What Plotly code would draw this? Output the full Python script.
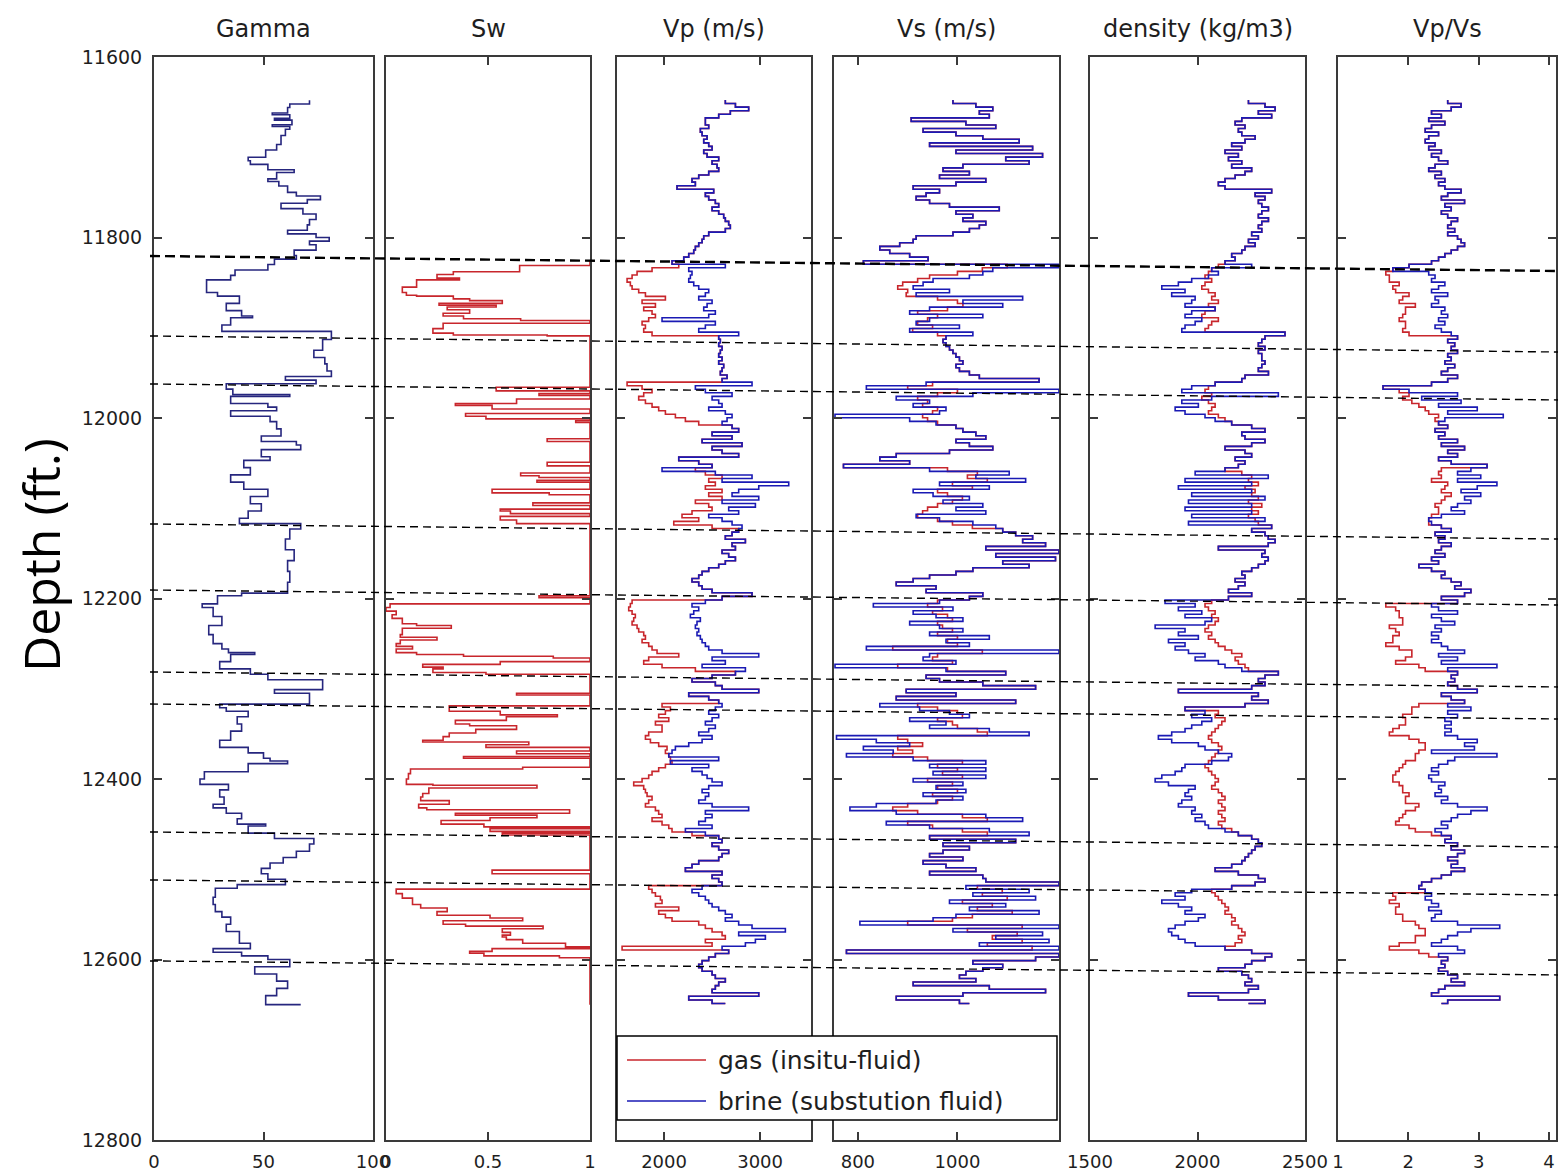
import plotly.graph_objects as go

# ---------------------------------------------------------------------------
# Well-log data (depth in ft)
# ---------------------------------------------------------------------------

# Gamma ray log, stepped samples
gamma_depth = [
    11648, 11652, 11656, 11662, 11664, 11668, 11670, 11675, 11677, 11680,
    11687, 11697, 11703, 11711, 11715, 11719, 11725, 11728, 11735, 11738,
    11743, 11750, 11754, 11758, 11762, 11768, 11774, 11780, 11786, 11792,
    11796, 11800, 11804, 11808, 11814, 11820, 11824, 11830, 11836, 11842,
    11847, 11861, 11865, 11873, 11881, 11887, 11889, 11897, 11904, 11913,
    11925, 11933, 11940, 11948, 11954, 11958, 11962, 11968, 11974, 11976,
    11984, 11988, 11992, 11998, 12004, 12012, 12020, 12026, 12030, 12035,
    12043, 12047, 12055, 12063, 12071, 12079, 12087, 12095, 12103, 12111,
    12117, 12123, 12134, 12146, 12158, 12170, 12182, 12194, 12197, 12206,
    12210, 12220, 12230, 12240, 12250, 12256, 12260, 12262, 12270, 12278,
    12284, 12290, 12301, 12305, 12317, 12321, 12325, 12331, 12339, 12347,
    12357, 12365, 12371, 12377, 12380, 12383, 12392, 12400, 12406, 12412,
    12420, 12428, 12432, 12438, 12444, 12450, 12452, 12460, 12466, 12472,
    12480, 12487, 12493, 12499, 12505, 12511, 12517, 12521, 12531, 12539,
    12547, 12553, 12561, 12569, 12582, 12588, 12592, 12596, 12600, 12608,
    12616, 12624, 12632, 12640, 12650,
]
gamma = [
    71, 62, 61, 54, 62, 55, 63, 54, 62, 60,
    58, 56, 51, 43, 44, 52, 64, 56, 52, 57,
    61, 65, 76, 70, 58, 68, 74, 71, 70, 61,
    74, 80, 71, 74, 64, 65, 55, 52, 37, 35,
    24, 29, 39, 33, 40, 45, 35, 31, 81, 77,
    73, 78, 79, 81, 60, 74, 33, 36, 62, 35,
    52, 56, 35, 53, 56, 58, 49, 65, 67, 49,
    53, 41, 44, 35, 41, 52, 44, 49, 43, 39,
    67, 62, 60, 64, 61, 62, 61, 40, 29, 22,
    27, 31, 25, 27, 31, 34, 46, 35, 30, 44,
    52, 77, 55, 71, 30, 33, 43, 38, 40, 35,
    30, 43, 50, 53, 61, 43, 23, 21, 34, 30,
    32, 27, 33, 40, 38, 51, 43, 55, 73, 71,
    65, 59, 53, 49, 52, 60, 38, 28, 27, 28,
    31, 35, 33, 39, 44, 27, 40, 52, 62, 46,
    56, 61, 56, 51, 67,
]

# Water saturation (in-situ), stepped samples
sw_depth = [
    11825, 11831, 11838, 11841, 11845, 11847, 11855, 11861, 11864, 11865,
    11868, 11870, 11873, 11875, 11877, 11880, 11884, 11887, 11890, 11892,
    11895, 11901, 11906, 11908, 11909, 11966, 11970, 11973, 11975, 11979,
    11984, 11986, 11990, 11995, 11998, 12001, 12003, 12005, 12023, 12026,
    12049, 12053, 12061, 12064, 12066, 12069, 12071, 12079, 12083, 12085,
    12094, 12097, 12101, 12103, 12106, 12109, 12113, 12117, 12197, 12199,
    12206, 12210, 12214, 12218, 12222, 12228, 12230, 12233, 12240, 12243,
    12246, 12250, 12253, 12256, 12260, 12262, 12264, 12266, 12270, 12273,
    12276, 12278, 12282, 12284, 12305, 12307, 12319, 12325, 12329, 12331,
    12335, 12339, 12341, 12345, 12349, 12353, 12357, 12359, 12362, 12365,
    12369, 12372, 12375, 12377, 12387, 12389, 12394, 12400, 12406, 12407,
    12410, 12416, 12420, 12424, 12428, 12432, 12434, 12438, 12440, 12443,
    12446, 12450, 12453, 12455, 12458, 12460, 12462, 12501, 12505, 12522,
    12527, 12532, 12537, 12539, 12543, 12547, 12551, 12554, 12557, 12561,
    12563, 12566, 12570, 12573, 12575, 12578, 12582, 12586, 12588, 12591,
    12593, 12596, 12598, 12650,
]
sw = [
    1.0, 0.655, 0.33, 0.25, 0.36, 0.15, 0.08, 0.10, 0.15, 0.33,
    0.41, 0.57, 0.26, 0.54, 0.30, 0.41, 0.28, 0.38, 0.66, 1.0,
    0.28, 0.23, 0.33, 0.79, 1.0, 0.54, 1.0, 0.75, 1.0, 0.64,
    0.34, 0.52, 1.0, 0.39, 0.49, 1.0, 0.93, 1.0, 0.79, 1.0,
    0.79, 1.0, 0.66, 0.75, 1.0, 0.74, 1.0, 0.52, 0.80, 1.0,
    0.72, 1.0, 0.56, 0.61, 1.0, 0.56, 0.64, 1.0, 0.75, 1.0,
    0.02, 0.0, 0.05, 0.03, 0.08, 0.15, 0.32, 0.08, 0.07, 0.25,
    0.07, 0.05, 0.13, 0.05, 0.15, 0.38, 0.82, 1.0, 0.56, 0.18,
    0.28, 0.23, 0.49, 1.0, 0.64, 1.0, 0.31, 0.56, 0.84, 0.59,
    0.34, 0.41, 0.64, 0.44, 0.31, 0.28, 0.18, 0.70, 0.49, 1.0,
    0.64, 1.0, 0.38, 1.0, 0.67, 0.12, 0.11, 0.10, 0.23, 0.74,
    0.21, 0.18, 0.17, 0.31, 0.16, 0.20, 0.90, 0.34, 0.74, 0.51,
    0.27, 0.48, 1.0, 0.51, 1.0, 0.57, 1.0, 0.52, 1.0, 0.05,
    0.08, 0.13, 0.13, 0.17, 0.30, 0.25, 0.51, 0.67, 0.28, 0.39,
    0.77, 0.57, 0.61, 0.57, 0.59, 0.67, 0.88, 1.0, 0.52, 0.41,
    0.48, 0.85, 1.0, 1.0,
]

# Elastic logs share one regular sampling (254 samples, ~3.96 ft step)
LOG_TOP, LOG_STEP, LOG_N = 11647.6, 3.957, 254
log_depth = [round(LOG_TOP + LOG_STEP * i, 1) for i in range(LOG_N)]

# P-wave velocity, brine-substituted (m/s)
vp_brine = [
    2638, 2743, 2881, 2690, 2569, 2430, 2430, 2465, 2378, 2396,
    2448, 2413, 2465, 2500, 2413, 2448, 2569, 2500, 2552, 2569,
    2465, 2361, 2291, 2326, 2135, 2517, 2430, 2465, 2534, 2569,
    2500, 2569, 2621, 2638, 2673, 2690, 2638, 2465, 2413, 2396,
    2361, 2326, 2309, 2257, 2205, 2083, 2638, 2257, 2291, 2274,
    2257, 2309, 2361, 2465, 2430, 2361, 2500, 2448, 2413, 2534,
    2465, 1979, 2534, 2430, 2361, 2777, 2569, 2586, 2569, 2604,
    2586, 2569, 2604, 2569, 2621, 2604, 2586, 2656, 2604, 2916,
    2326, 2430, 2708, 2500, 2569, 2604, 2465, 2638, 2708, 2656,
    2604, 2708, 2777, 2500, 2708, 2396, 2812, 2500, 2604, 2777,
    2153, 2361, 2500, 1979, 2534, 2916, 2604, 3298, 2986, 2777,
    2708, 2986, 2604, 2951, 2673, 2777, 2465, 2604, 2708, 2812,
    2777, 2708, 2638, 2847, 2708, 2743, 2604, 2673, 2743, 2638,
    2569, 2465, 2396, 2361, 2291, 2361, 2396, 2500,
    2916, 2604, 2430, 2291, 2361, 2309, 2274, 2378, 2343, 2326,
    2361, 2343, 2378, 2396, 2430, 2465, 2604, 2986, 2500, 2638,
    2396, 2847, 2743, 2500, 2291, 2534, 2604, 2986, 2257, 2465,
    2569, 2604, 2534, 2465, 2569, 2500, 2430, 2534, 2465, 2361,
    2500, 2396, 2257, 2118, 2083, 2049, 2569, 2066, 2465, 2291,
    2396, 2448, 2500, 2604, 2465, 2396, 2465, 2430, 2361, 2500,
    2881, 2430, 2500, 2430, 2361, 2500, 2222, 2430, 2569, 2604,
    2500, 2569, 2673, 2604, 2569, 2361, 2291, 2222, 2604, 2500,
    2569, 2604, 2396, 2291, 2361, 2430, 2465, 2500, 2569, 2638,
    2708, 2638, 2777, 2916, 3263, 2777, 3055, 2951, 2847, 2604,
    2673, 2534, 2465, 2396, 2361, 2396, 2500, 2534, 2638, 2569,
    2534, 2500, 2986, 2257, 2500, 2638,
]
# In-situ (gas) P-wave velocity inside the gas zones: (first sample, values)
vp_gas_zones = [
    (46, [2153, 1875, 1719, 1667, 1615, 1649, 1667, 1736, 1806, 2014,
          1771, 1910, 1788, 1875, 1910, 1840, 1771, 1806, 1788, 1875]),
    (79, [1615, 1771, 1875, 1788, 1736, 1806, 1875, 1944, 2014, 2118,
          2222, 2361]),
    (103, [2326, 2430, 2604, 2465, 2534, 2430, 2604, 2465, 2604, 2326,
           2465, 2500, 2291, 2187, 2361, 2101, 2500]),
    (140, [1667, 1649, 1632, 1667, 1701, 1684, 1667, 1719, 1736, 1788,
           1806, 1771, 1840, 1875, 1927, 2153, 1840, 1788, 1979, 2326]),
    (169, [1979, 2066, 2014, 1944, 2049, 1910, 1979, 1979, 1840, 1806,
           1858, 1944, 2031, 2014, 2049, 2066, 2083, 2014, 1944, 1875,
           1840, 1771, 1684, 1788, 1806, 1823, 1875, 1840, 1806, 1910,
           1944, 1979, 1875, 1979, 2049, 2083, 2291]),
    (220, [1840, 1875, 1910, 1962, 1979, 1910, 2153, 1944, 2014, 2083,
           2361, 2430, 2500, 2604, 2638, 2430, 2500, 1563]),
]

# S-wave velocity, brine-substituted (m/s)
vs_brine = [
    991, 1037, 1071, 1044, 1064, 907, 1017, 1077, 931, 997,
    1051, 1124, 944, 1151, 997, 1171, 1097, 1144, 1011, 971,
    1024, 964, 1057, 997, 911, 964, 937, 917, 944, 984,
    1084, 997, 1031, 1011, 1057, 1044, 1024, 991, 917, 911,
    884, 844, 864, 904, 941, 811, 1204, 1071, 1051, 1024,
    951, 931, 911, 984, 917, 1131, 1011, 1091, 944, 904,
    1051, 944, 917, 1004, 904, 1031, 977, 971, 977, 984,
    991, 997, 1004, 1011, 997, 1004, 1024, 1044, 1164, 937,
    817, 1204, 1031, 877, 944, 911, 977, 964, 754, 904,
    957, 997, 1011, 1037, 1057, 997, 1024, 1071, 984, 877,
    844, 904, 771, 944, 1104, 1037, 1137, 964, 1064, 911,
    951, 1024, 971, 1051, 997, 1057, 917, 964, 1031, 1077,
    1091, 1117, 1151, 1131, 1177, 1057, 1204, 1077, 1197, 1091,
    1144, 1031, 997, 944, 911, 877, 957, 937,
    1051, 1024, 964, 831, 991, 911, 957, 1011, 904, 964,
    1011, 944, 1064, 977, 1024, 817, 1204, 944, 931, 997,
    754, 977, 1097, 937, 964, 1051, 1157, 897, 997, 877,
    1117, 844, 924, 984, 1024, 904, 977, 944, 1064, 1144,
    757, 837, 904, 811, 871, 777, 911, 1057, 944, 1057,
    951, 1057, 911, 1011, 957, 1017, 931, 1011, 957, 837,
    784, 877, 1057, 1131, 857, 944, 1064, 1144, 944, 1117,
    971, 1024, 971, 944, 1011, 931, 977, 1037, 944, 1051,
    1057, 1204, 1017, 1144, 1031, 1157, 984, 1097, 1024, 1164,
    997, 951, 804, 1204, 991, 1171, 1077, 1184, 1044, 1204,
    777, 1204, 1157, 1031, 1091, 1051, 1017, 1004, 1037, 911,
    1064, 1177, 1011, 877, 1004, 1024,
]
vs_gas_zones = [
    (46, [1100, 1050, 1000, 944, 920, 890, 880, 900, 897, 960,
          1000, 1011, 980, 920, 960, 940, 920, 950, 910, 960]),
    (79, [950, 900, 1000, 960, 920, 940, 930, 960, 950, 930, 940, 960]),
    (103, [980, 1040, 1020, 1060, 990, 1030, 960, 980, 1010, 990,
           960, 940, 930, 920, 960, 990, 1030]),
    (140, [960, 940, 970, 950, 980, 990, 960, 970, 990, 960,
           1000, 980, 1000, 870, 1050, 960, 950, 990, 880, 980]),
    (169, [920, 960, 1000, 1010, 960, 990, 1000, 1040, 1060, 880,
           900, 930, 880, 910, 870, 940, 1010, 960, 1000, 970,
           1010, 940, 990, 960, 1000, 950, 990, 960, 900, 870,
           920, 1010, 1060, 900, 950, 1010, 1060]),
    (220, [1040, 1090, 1050, 1100, 1010, 1070, 1040, 1110, 1030, 990,
           900, 1130, 1020, 1120, 1070, 1130, 1060, 1150]),
]

# Bulk density, brine-substituted (kg/m3)
rho_brine = [
    2237, 2314, 2361, 2283, 2345, 2206, 2175, 2221, 2190, 2206,
    2268, 2221, 2159, 2206, 2128, 2190, 2144, 2206, 2159, 2252,
    2221, 2175, 2128, 2097, 2128, 2345, 2268, 2314, 2283, 2299,
    2330, 2299, 2283, 2330, 2299, 2283, 2299, 2252, 2283, 2237,
    2268, 2221, 2206, 2159, 2175, 2128, 2252, 2066, 2097, 2051,
    1973, 1911, 1834, 1942, 1880, 1989, 1973, 1942, 2082, 1973,
    1942, 2020, 1989, 1942, 1927, 2407, 2314, 2299, 2283, 2314,
    2283, 2299, 2299, 2314, 2299, 2283, 2330, 2221, 2206, 2082,
    1973, 1927, 2376, 2066, 1927, 2004, 1896, 1942, 2035, 2082,
    2159, 2252, 2314, 2206, 2221, 2314, 2252, 2128, 2221, 2252,
    2175, 2221, 2190, 2128, 1989, 2329, 1942, 2252, 1911, 2252,
    1973, 2314, 1958, 2252, 1942, 2252, 1973, 2314, 1958, 2345,
    2252, 2314, 2329, 2361, 2329, 2097, 2314, 2299, 2329, 2314,
    2283, 2252, 2206, 2221, 2175, 2221, 2190, 2144,
    2252, 2144, 1849, 1989, 1911, 2020, 1942, 2066, 2035, 1803,
    1942, 1911, 2004, 1865, 1942, 1896, 1958, 2035, 1989, 2097,
    2128, 2206, 2376, 2314, 2283, 2314, 2252, 1911, 2283, 2252,
    2329, 2221, 1942, 2035, 1973, 2066, 2020, 1973, 1942, 1880,
    1818, 1880, 2004, 2035, 2097, 2159, 2144, 2066, 1942, 1927,
    1896, 1834, 1803, 1865, 1989, 1958, 1942, 1973, 1927, 1911,
    1989, 1973, 2020, 1989, 2035, 2051, 2128, 2190, 2252, 2283,
    2299, 2268, 2252, 2237, 2221, 2206, 2159, 2082, 2190, 2283,
    2314, 2268, 2159, 1973, 1896, 1942, 1834, 1911, 1973, 1942,
    2035, 2004, 1942, 1896, 1865, 1880, 1911, 1942, 1989, 2128,
    2252, 2345, 2314, 2252, 2221, 2097, 2206, 2237, 2252, 2221,
    2283, 2237, 1958, 2097, 2314, 2237,
]
rho_gas_zones = [
    (46, [2097, 2066, 2051, 2035, 2066, 2035, 2020, 2051, 2082, 2066,
          2097, 2051, 2082, 2035, 2020, 2097, 2066, 2051, 2035]),
    (79, [2082, 2051, 2035, 2066, 2020, 2051, 2082, 2066, 2051, 2097, 2128]),
    (104, [2206, 2252, 2237, 2283, 2221, 2268, 2252, 2283, 2237, 2299,
           2252, 2283, 2237, 2268, 2283]),
    (140, [2066, 2035, 2051, 2082, 2066, 2097, 2082, 2051, 2035, 2066,
           2051, 2082, 2097, 2128, 2159, 2206, 2175, 2190, 2221, 2237]),
    (171, [2097, 2082, 2128, 2113, 2097, 2082, 2066, 2051, 2066, 2097,
           2113, 2097, 2082, 2066, 2051, 2035, 2051, 2066, 2082, 2097,
           2082, 2066, 2097, 2113, 2128, 2097, 2113, 2128, 2097, 2113,
           2128, 2097, 2113, 2159, 2190]),
    (221, [2066, 2082, 2097, 2113, 2128, 2144, 2128, 2159, 2175, 2159,
           2190, 2206, 2221, 2190, 2206, 2175, 2128]),
]

# Vp/Vs ratio, brine-substituted
vpvs_brine = [
    2.56, 2.75, 2.61, 2.33, 2.47, 2.29, 2.52, 2.33, 2.24, 2.43,
    2.29, 2.24, 2.38, 2.29, 2.47, 2.33, 2.43, 2.56, 2.38, 2.29,
    2.47, 2.38, 2.52, 2.43, 2.52, 2.75, 2.56, 2.47, 2.80, 2.52,
    2.61, 2.47, 2.56, 2.70, 2.61, 2.56, 2.66, 2.56, 2.70, 2.75,
    2.80, 2.70, 2.61, 2.52, 2.43, 2.33, 2.01, 1.78, 2.29, 2.38,
    2.33, 2.52, 2.43, 2.33, 2.56, 2.38, 2.43, 2.33, 2.52, 2.47,
    2.56, 2.43, 2.52, 2.38, 2.47, 2.61, 2.70, 2.56, 2.66, 2.61,
    2.70, 2.56, 2.61, 2.52, 2.66, 2.56, 2.47, 2.70, 2.56, 2.33,
    1.64, 2.01, 2.70, 2.19, 2.75, 2.43, 2.98, 2.56, 3.35, 2.52,
    2.43, 2.56, 2.38, 2.52, 2.43, 2.70, 2.47, 2.80, 2.56, 2.70,
    2.43, 2.61, 3.12, 2.89, 2.70, 3.03, 2.70, 3.26, 2.98, 2.75,
    3.03, 2.80, 2.89, 2.70, 2.61, 2.80, 2.47, 2.29, 2.33, 2.47,
    2.61, 2.38, 2.52, 2.43, 2.61, 2.47, 2.38, 2.52, 2.33, 2.43,
    2.15, 2.33, 2.52, 2.47, 2.61, 2.75, 2.66, 2.89,
    2.80, 2.47, 2.70, 2.33, 2.43, 2.70, 2.33, 2.47, 2.66, 2.38,
    2.47, 2.33, 2.43, 2.33, 2.47, 2.56, 2.80, 2.43, 2.70, 2.47,
    3.26, 2.56, 2.70, 2.61, 2.66, 2.56, 2.70, 2.98, 2.47, 2.61,
    2.80, 2.56, 2.89, 2.56, 2.70, 2.52, 2.61, 2.52, 2.61, 2.52,
    2.70, 2.98, 2.80, 2.94, 2.33, 3.26, 2.66, 2.56, 2.43, 2.33,
    2.43, 2.29, 2.33, 2.52, 2.43, 2.47, 2.38, 2.56, 2.47, 2.70,
    3.12, 2.89, 2.70, 2.61, 2.47, 2.56, 2.38, 2.47, 2.61, 2.52,
    2.70, 2.61, 2.80, 2.70, 2.56, 2.70, 2.61, 2.80, 2.61, 2.47,
    2.33, 2.19, 2.15, 2.24, 2.33, 2.24, 2.33, 2.43, 2.29, 2.47,
    2.38, 2.33, 2.70, 3.30, 2.89, 2.70, 2.56, 2.47, 2.33, 2.70,
    2.80, 2.43, 2.56, 2.47, 2.52, 2.43, 2.56, 2.70, 2.61, 2.80,
    2.52, 2.43, 2.33, 3.30, 2.56, 2.47,
]
vpvs_gas_zones = [
    (47, [1.78, 1.68, 1.73, 1.73, 1.87, 1.78, 1.82, 2.01, 1.92, 1.87,
          2.10, 1.96, 1.96, 1.92, 1.87, 1.96, 1.96, 1.92, 2.01]),
    (80, [1.64, 1.87, 2.01, 1.92, 2.05, 2.15, 2.24, 2.29, 2.43, 2.38]),
    (103, [2.47, 2.43, 2.47, 2.33, 2.56, 2.52, 2.47, 2.61, 2.52, 2.47,
           2.38, 2.43, 2.43, 2.33, 2.29, 2.29]),
    (141, [1.68, 1.82, 1.87, 1.87, 1.92, 1.92, 1.73, 1.82, 1.87, 1.78,
           1.78, 1.68, 1.87, 2.05, 2.05, 1.96, 1.82, 2.15, 2.24]),
    (169, [2.15, 2.05, 2.05, 1.92, 1.96, 1.96, 1.87, 1.78, 1.73, 2.01,
           2.15, 2.24, 2.24, 2.15, 2.10, 2.10, 1.96, 1.92, 1.87, 1.82,
           1.78, 1.78, 1.87, 1.92, 1.92, 2.01, 1.96, 1.96, 2.15, 2.10,
           1.96, 1.92, 1.87, 1.82, 2.01, 2.10, 2.33]),
    (222, [1.78, 1.82, 1.73, 1.87, 1.82, 1.82, 1.92, 1.92, 2.10, 2.15,
           2.24, 2.24, 2.10, 2.10, 1.87, 1.73, 2.15, 2.29]),
]

# Picked horizons: depth at the left of the Gamma track and at the far right
horizon_left = [11820.5, 11909.1, 11962.3, 12117.4, 12190.6,
                12281.4, 12316.9, 12458.7, 12511.9, 12601.6]
horizon_right = [11837.1, 11926.9, 11980.0, 12134.1, 12207.2,
                 12298.0, 12333.5, 12475.3, 12528.5, 12617.1]

track_titles = ["Gamma", "Sw", "Vp (m/s)", "Vs (m/s)", "density (kg/m3)", "Vp/Vs"]
track_ticks = [[0, 50, 100], [0, 0.5, 1], [2000, 3000], [800, 1000],
               [1500, 2000, 2500], [1, 2, 3, 4]]
track_ticktext = [["0", "50", "100"], ["0", "0.5", "1"], ["2000", "3000"],
                  ["800", "1000"], ["1500", "2000", "2500"], ["1", "2", "3", "4"]]
track_ranges = [[0, 100], [0, 1], [1510, 3530], [752, 1204],
                [1500, 2500], [1, 4.1]]
depth_ticks = [11600, 11800, 12000, 12200, 12400, 12600, 12800]
depth_ticktext = ["11600", "11800", "12000", "12200", "12400", "12600", "12800"]
DEPTH_MIN, DEPTH_MAX = 11600, 12800

legend_labels = ["gas (insitu-fluid)", "brine (substution fluid)"]


def with_gas_zones(base, zones):
    """In-situ log: equals the brine log except inside the gas zones."""
    out = list(base)
    for start, vals in zones:
        out[start:start + len(vals)] = vals
    return out


vp_gas = with_gas_zones(vp_brine, vp_gas_zones)
vs_gas = with_gas_zones(vs_brine, vs_gas_zones)
rho_gas = with_gas_zones(rho_brine, rho_gas_zones)
vpvs_gas = with_gas_zones(vpvs_brine, vpvs_gas_zones)

# ---------------------------------------------------------------------------
# Layout geometry (pixels)
# ---------------------------------------------------------------------------
W, H = 1558, 1172
ML, MR, MT, MB = 154, 2, 57, 32
PW, PH = W - ML - MR, H - MT - MB
track_px = [(154, 373), (386, 590), (617, 811), (834, 1059), (1090, 1305), (1338, 1556)]


def px_x(px):
    return (px - ML) / PW


def px_y(py):
    return (H - MB - py) / PH


def depth_y(d):
    return (DEPTH_MAX - d) / (DEPTH_MAX - DEPTH_MIN)


GAS_C = "#c8262c"
BRINE_C = "#1a1ab4"
GAMMA_C = "#26267e"
AXIS_C = "#3a3a3a"
TEXT_C = "#1e1e1e"
LW = 1.6
SANS = "DejaVu Sans, Liberation Sans, Arial, sans-serif"

fig = go.Figure()


def add_curve(i, x, y, color):
    n = i + 1
    fig.add_trace(go.Scatter(
        x=x, y=y, mode="lines",
        line=dict(color=color, width=LW, shape="vh"),
        xaxis=f"x{n if n > 1 else ''}", yaxis=f"y{n if n > 1 else ''}",
        showlegend=False, hoverinfo="x+y",
    ))


add_curve(0, gamma, gamma_depth, GAMMA_C)
add_curve(1, sw, sw_depth, GAS_C)
for i, (g, b) in enumerate([(vp_gas, vp_brine), (vs_gas, vs_brine),
                            (rho_gas, rho_brine), (vpvs_gas, vpvs_brine)], start=2):
    add_curve(i, g, log_depth, GAS_C)
    add_curve(i, b, log_depth, BRINE_C)

tick_font = dict(family=SANS, size=18, color=TEXT_C)
layout = dict(
    width=W, height=H,
    margin=dict(l=ML, r=MR, t=MT, b=MB, autoexpand=False),
    paper_bgcolor="white", plot_bgcolor="white",
    showlegend=False,
)
for i in range(6):
    n = "" if i == 0 else str(i + 1)
    a, b = track_px[i]
    layout[f"xaxis{n}"] = dict(
        domain=[px_x(a), px_x(b)], anchor=f"y{n}", range=track_ranges[i],
        tickmode="array", tickvals=track_ticks[i], ticktext=track_ticktext[i],
        ticks="inside", ticklen=8, tickwidth=1.5, tickcolor=AXIS_C,
        showline=True, linecolor=AXIS_C, linewidth=2, mirror="ticks",
        showgrid=False, zeroline=False, tickfont=tick_font,
        ticklabelstandoff=4, fixedrange=True, automargin=False,
        ticklabeloverflow="allow",
    )
    layout[f"yaxis{n}"] = dict(
        domain=[0, 1], anchor=f"x{n}", range=[DEPTH_MAX, DEPTH_MIN],
        tickmode="array", tickvals=depth_ticks, ticktext=depth_ticktext,
        ticks="inside", ticklen=8, tickwidth=1.5, tickcolor=AXIS_C,
        showline=True, linecolor=AXIS_C, linewidth=2, mirror="ticks",
        showgrid=False, zeroline=False, tickfont=dict(family=SANS, size=19, color=TEXT_C),
        showticklabels=(i == 0), ticklabelstandoff=6, automargin=False,
    )
    if i > 0:
        layout[f"yaxis{n}"]["matches"] = "y"
fig.update_layout(**layout)

# Track titles
for i, title in enumerate(track_titles):
    a, b = track_px[i]
    fig.add_annotation(
        x=px_x((a + b) / 2), y=px_y(29), xref="paper", yref="paper",
        text=title, showarrow=False, xanchor="center", yanchor="middle",
        font=dict(family=SANS, size=24, color=TEXT_C),
    )

# Depth axis title
fig.add_annotation(
    x=px_x(41), y=px_y(555), xref="paper", yref="paper",
    text="Depth (ft.)", showarrow=False, textangle=-90,
    xanchor="center", yanchor="middle",
    font=dict(family="Open Sans, Noto Sans, sans-serif", size=50, color="black"),
)

# Horizon correlation lines across all tracks
for k, (dl, dr) in enumerate(zip(horizon_left, horizon_right)):
    fig.add_shape(
        type="line", xref="paper", yref="paper",
        x0=px_x(150), x1=px_x(W), y0=depth_y(dl), y1=depth_y(dr),
        line=dict(color="black", width=2.4 if k == 0 else 1.4,
                  dash="10px,5px" if k == 0 else "8px,5px"),
        layer="above",
    )

# Legend box drawn inside the Vp / Vs tracks
fig.add_shape(
    type="rect", xref="paper", yref="paper",
    x0=px_x(617), x1=px_x(1057), y0=px_y(1120), y1=px_y(1036),
    fillcolor="white", line=dict(color="black", width=1.5), layer="above",
)
for label, color, py in zip(legend_labels, [GAS_C, BRINE_C], [1060, 1101]):
    fig.add_shape(
        type="line", xref="paper", yref="paper",
        x0=px_x(627), x1=px_x(706), y0=px_y(py), y1=px_y(py),
        line=dict(color=color, width=1.6), layer="above",
    )
    fig.add_annotation(
        x=px_x(716), y=px_y(py), xref="paper", yref="paper",
        text=label, showarrow=False, xanchor="left", yanchor="middle",
        font=dict(family=SANS, size=25, color=TEXT_C),
    )

fig.write_html("out.html")
